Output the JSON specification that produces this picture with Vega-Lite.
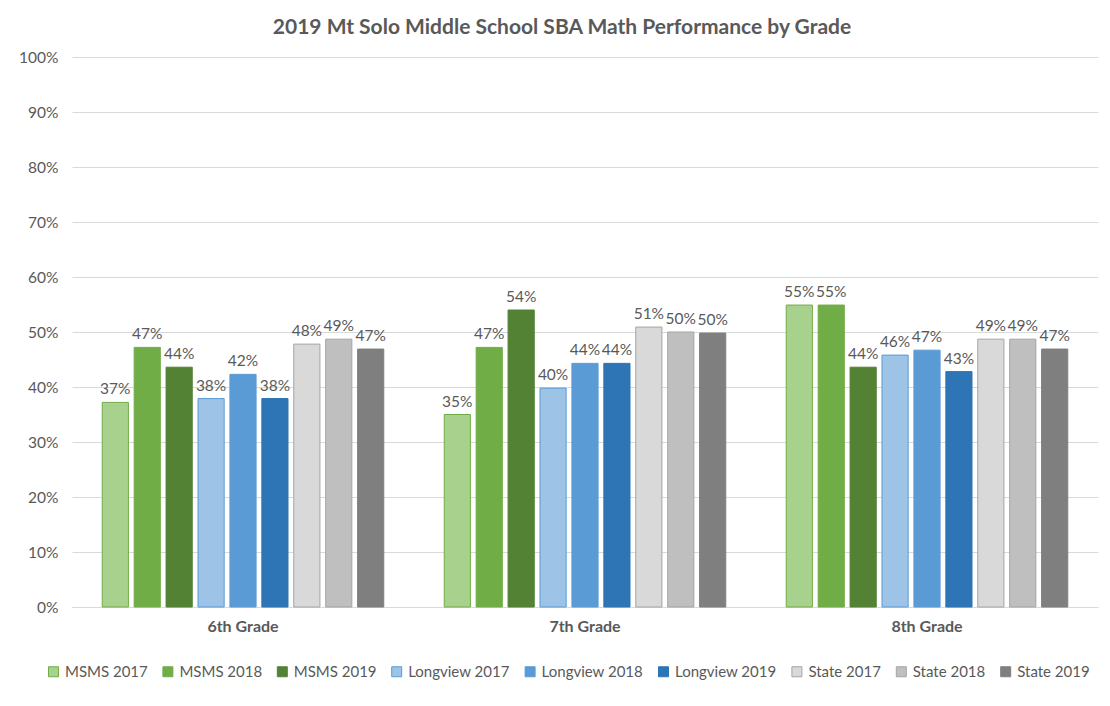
{
  "$schema": "https://vega.github.io/schema/vega-lite/v6.json",
  "autosize": "none",
  "width": 1026,
  "height": 550,
  "padding": {"left": 72, "top": 57, "right": 12, "bottom": 99},
  "background": "white",
  "title": {
    "text": "2019 Mt Solo Middle School SBA Math Performance by Grade",
    "font": "Lato",
    "fontSize": 21,
    "fontWeight": "bold",
    "color": "#595959",
    "offset": 12,
    "dx": -23
  },
  "data": {
    "values": [
      {"grade": "6th Grade", "series": "MSMS 2017", "value": 0.372},
      {"grade": "6th Grade", "series": "MSMS 2018", "value": 0.472},
      {"grade": "6th Grade", "series": "MSMS 2019", "value": 0.436},
      {"grade": "6th Grade", "series": "Longview 2017", "value": 0.379},
      {"grade": "6th Grade", "series": "Longview 2018", "value": 0.423},
      {"grade": "6th Grade", "series": "Longview 2019", "value": 0.379},
      {"grade": "6th Grade", "series": "State 2017", "value": 0.478},
      {"grade": "6th Grade", "series": "State 2018", "value": 0.487},
      {"grade": "6th Grade", "series": "State 2019", "value": 0.469},
      {"grade": "7th Grade", "series": "MSMS 2017", "value": 0.350},
      {"grade": "7th Grade", "series": "MSMS 2018", "value": 0.472},
      {"grade": "7th Grade", "series": "MSMS 2019", "value": 0.540},
      {"grade": "7th Grade", "series": "Longview 2017", "value": 0.398},
      {"grade": "7th Grade", "series": "Longview 2018", "value": 0.443},
      {"grade": "7th Grade", "series": "Longview 2019", "value": 0.443},
      {"grade": "7th Grade", "series": "State 2017", "value": 0.509},
      {"grade": "7th Grade", "series": "State 2018", "value": 0.500},
      {"grade": "7th Grade", "series": "State 2019", "value": 0.498},
      {"grade": "8th Grade", "series": "MSMS 2017", "value": 0.549},
      {"grade": "8th Grade", "series": "MSMS 2018", "value": 0.549},
      {"grade": "8th Grade", "series": "MSMS 2019", "value": 0.436},
      {"grade": "8th Grade", "series": "Longview 2017", "value": 0.458},
      {"grade": "8th Grade", "series": "Longview 2018", "value": 0.467},
      {"grade": "8th Grade", "series": "Longview 2019", "value": 0.428},
      {"grade": "8th Grade", "series": "State 2017", "value": 0.487},
      {"grade": "8th Grade", "series": "State 2018", "value": 0.487},
      {"grade": "8th Grade", "series": "State 2019", "value": 0.469}
    ]
  },
  "encoding": {
    "x": {
      "field": "grade",
      "type": "nominal",
      "sort": ["6th Grade", "7th Grade", "8th Grade"],
      "scale": {"paddingInner": 0.16, "paddingOuter": 0.08},
      "axis": {
        "title": null,
        "labelAngle": 0,
        "labelFont": "Lato",
        "labelFontSize": 16,
        "labelFontWeight": "bold",
        "labelColor": "#595959",
        "labelPadding": 11,
        "ticks": false,
        "domainColor": "#D9D9D9",
        "domainWidth": 1
      }
    },
    "xOffset": {
      "field": "series",
      "type": "nominal",
      "sort": ["MSMS 2017", "MSMS 2018", "MSMS 2019", "Longview 2017", "Longview 2018", "Longview 2019", "State 2017", "State 2018", "State 2019"],
      "scale": {"paddingInner": 0.18, "paddingOuter": 0.09}
    },
    "y": {
      "field": "value",
      "type": "quantitative",
      "scale": {"domain": [0, 1], "nice": false},
      "axis": {
        "title": null,
        "format": ".0%",
        "values": [0, 0.1, 0.2, 0.3, 0.4, 0.5, 0.6, 0.7, 0.8, 0.9, 1],
        "labelFont": "Lato",
        "labelFontSize": 15.5,
        "labelColor": "#595959",
        "labelPadding": 14,
        "ticks": false,
        "domain": false,
        "gridColor": "#D9D9D9",
        "gridWidth": 1
      }
    }
  },
  "layer": [
    {
      "mark": {"type": "bar", "strokeWidth": 1},
      "encoding": {
        "fill": {
          "field": "series",
          "type": "nominal",
          "scale": {
            "domain": ["MSMS 2017", "MSMS 2018", "MSMS 2019", "Longview 2017", "Longview 2018", "Longview 2019", "State 2017", "State 2018", "State 2019"],
            "range": ["#A9D18E", "#70AD47", "#548235", "#9DC3E6", "#5B9BD5", "#2E75B6", "#D9D9D9", "#BFBFBF", "#7F7F7F"]
          },
          "legend": {
            "title": null,
            "orient": "none",
            "direction": "horizontal",
            "legendX": -26,
            "legendY": 607,
            "symbolType": "square",
            "symbolSize": 100,
            "symbolStrokeWidth": 1,
            "labelFont": "Lato",
            "labelFontSize": 15,
            "labelColor": "#595959",
            "labelOffset": 4,
            "columnPadding": 12.4
          }
        },
        "stroke": {
          "field": "series",
          "type": "nominal",
          "scale": {
            "domain": ["MSMS 2017", "MSMS 2018", "MSMS 2019", "Longview 2017", "Longview 2018", "Longview 2019", "State 2017", "State 2018", "State 2019"],
            "range": ["#70AD47", "#70AD47", "#548235", "#5B9BD5", "#5B9BD5", "#2E75B6", "#A5A5A5", "#A5A5A5", "#7F7F7F"]
          }
        }
      }
    },
    {
      "mark": {"type": "text", "baseline": "bottom", "dy": -5, "font": "Lato", "fontSize": 15.5, "color": "#595959"},
      "encoding": {
        "text": {"field": "value", "type": "quantitative", "format": ".0%"}
      }
    }
  ],
  "config": {
    "view": {"stroke": null}
  }
}
